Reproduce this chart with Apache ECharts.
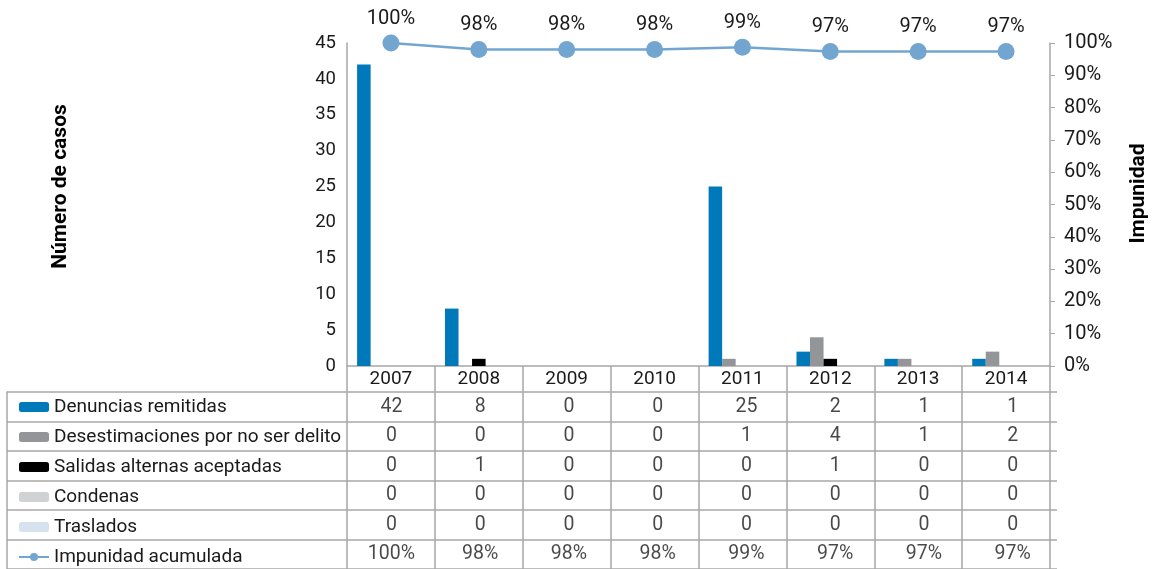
<!DOCTYPE html>
<html>
<head>
<meta charset="utf-8">
<script src="https://cdn.jsdelivr.net/npm/echarts@6/dist/echarts.min.js"></script>
<style>
  html, body { margin: 0; padding: 0; background: #fff; }
  #main { width: 1157px; height: 569px; }
</style>
</head>
<body>
<div id="main"></div>
<script>
// datos
const years = ['2007', '2008', '2009', '2010', '2011', '2012', '2013', '2014'];
const denuncias = [42, 8, 0, 0, 25, 2, 1, 1];
const desestimaciones = [0, 0, 0, 0, 1, 4, 1, 2];
const salidas = [0, 1, 0, 0, 0, 1, 0, 0];
const condenas = [0, 0, 0, 0, 0, 0, 0, 0];
const traslados = [0, 0, 0, 0, 0, 0, 0, 0];
const impunidad = [100, 98, 98, 98, 98.7, 97.4, 97.4, 97.4];

const names = ['Denuncias remitidas', 'Desestimaciones por no ser delito', 'Salidas alternas aceptadas', 'Condenas', 'Traslados', 'Impunidad acumulada'];
const colors = ['#0079ba', '#939598', '#000000', '#d1d2d4', '#d6e2ee', '#72a6d0'];

const font = 'Roboto';
const txt = '#1a1a1a';
const lineGray = '#a7a7a7';

const barData = [denuncias, desestimaciones, salidas, condenas, traslados];

// celdas de la tabla
const rows = [denuncias, desestimaciones, salidas, condenas, traslados];
const cells = [];
rows.forEach((row, r) => {
  row.forEach((v, i) => cells.push([i, r, String(v)]));
});
impunidad.forEach((v, i) => cells.push([i, 5, Math.round(v) + '%']));

const chart = echarts.init(document.getElementById('main'));

const series = barData.map((d, k) => ({
  name: names[k],
  type: 'bar',
  xAxisIndex: 0,
  yAxisIndex: 0,
  data: d,
  barGap: 0,
  barCategoryGap: '23%',
  itemStyle: { color: colors[k] },
  silent: true
}));

series.push({
  name: names[5],
  type: 'line',
  xAxisIndex: 0,
  yAxisIndex: 1,
  data: impunidad,
  symbol: 'circle',
  symbolSize: 17,
  itemStyle: { color: colors[5] },
  lineStyle: { color: colors[5], width: 2.5 },
  label: {
    show: true,
    position: 'top',
    distance: 6,
    fontFamily: font,
    fontSize: 20,
    color: txt,
    formatter: p => Math.round(p.value) + '%'
  },
  z: 5
});

series.push({
  type: 'scatter',
  xAxisIndex: 1,
  yAxisIndex: 2,
  data: cells,
  symbol: 'circle',
  symbolSize: 1,
  itemStyle: { color: 'rgba(0,0,0,0)' },
  label: {
    show: true,
    position: 'inside',
    fontFamily: font,
    fontSize: 19.5,
    color: txt,
    formatter: p => p.value[2]
  },
  silent: true
});

const option = {
  backgroundColor: '#fff',
  animation: false,
  textStyle: { fontFamily: font },
  legend: {
    orient: 'vertical',
    left: 18,
    top: 392,
    height: 200,
    padding: 0,
    itemGap: 0,
    itemWidth: 30,
    itemHeight: 10,
    data: names,
    textStyle: { fontFamily: font, fontSize: 19, color: txt, lineHeight: 30, height: 30 },
    selectedMode: false
  },
  grid: [
    { left: 347, right: 100, top: 43, bottom: 203 },   // grafico
    { left: 347, right: 100, top: 392, height: 180 },  // tabla valores
    { left: 7, width: 340, top: 392, height: 180 }     // tabla etiquetas
  ],
  xAxis: [
    {
      type: 'category',
      gridIndex: 0,
      data: years,
      axisLine: { show: true, lineStyle: { color: lineGray, width: 1.5 } },
      axisTick: { show: true, interval: 0, length: 206, lineStyle: { color: lineGray, width: 1.5 } },
      axisLabel: { fontFamily: font, fontSize: 19, color: txt, margin: 4, interval: 0 }
    },
    {
      type: 'category',
      gridIndex: 1,
      data: years,
      show: false
    },
    {
      type: 'value',
      gridIndex: 2,
      show: false,
      min: 0,
      max: 1
    }
  ],
  yAxis: [
    {
      type: 'value',
      gridIndex: 0,
      min: 0,
      max: 45,
      interval: 5,
      name: 'Número de casos',
      nameLocation: 'middle',
      nameGap: 276,
      nameRotate: 90,
      nameTextStyle: { fontFamily: font, fontSize: 21, fontWeight: 'bold', color: '#000', padding: [0, 0, 0, 36] },
      axisLine: { show: true, lineStyle: { color: lineGray, width: 1.5 } },
      axisTick: { show: false },
      splitLine: { show: false },
      axisLabel: { fontFamily: font, fontSize: 18.5, color: txt, margin: 11 }
    },
    {
      type: 'value',
      gridIndex: 0,
      position: 'right',
      min: 0,
      max: 100,
      interval: 10,
      name: 'Impunidad',
      nameLocation: 'middle',
      nameGap: 78,
      nameRotate: 90,
      nameTextStyle: { fontFamily: font, fontSize: 21, fontWeight: 'bold', color: '#000', padding: [0, 0, 0, 22] },
      axisLine: { show: true, lineStyle: { color: lineGray, width: 1.5 } },
      axisTick: { show: true, length: 5, lineStyle: { color: lineGray } },
      splitLine: { show: false },
      axisLabel: { fontFamily: font, fontSize: 20, color: txt, margin: 14, formatter: '{value}%' }
    },
    {
      type: 'category',
      gridIndex: 1,
      inverse: true,
      data: names,
      axisLine: { show: false },
      axisTick: { show: false },
      axisLabel: { show: false },
      splitLine: { show: true, interval: 0, lineStyle: { color: lineGray, width: 1.5 } }
    },
    {
      type: 'category',
      gridIndex: 2,
      inverse: true,
      data: names,
      axisLine: { show: true, lineStyle: { color: lineGray, width: 1.5 } },
      axisTick: { show: false },
      axisLabel: { show: false },
      splitLine: { show: true, interval: 0, lineStyle: { color: lineGray, width: 1.5 } }
    }
  ],
  series: series
};

chart.setOption(option);
</script>
</body>
</html>
